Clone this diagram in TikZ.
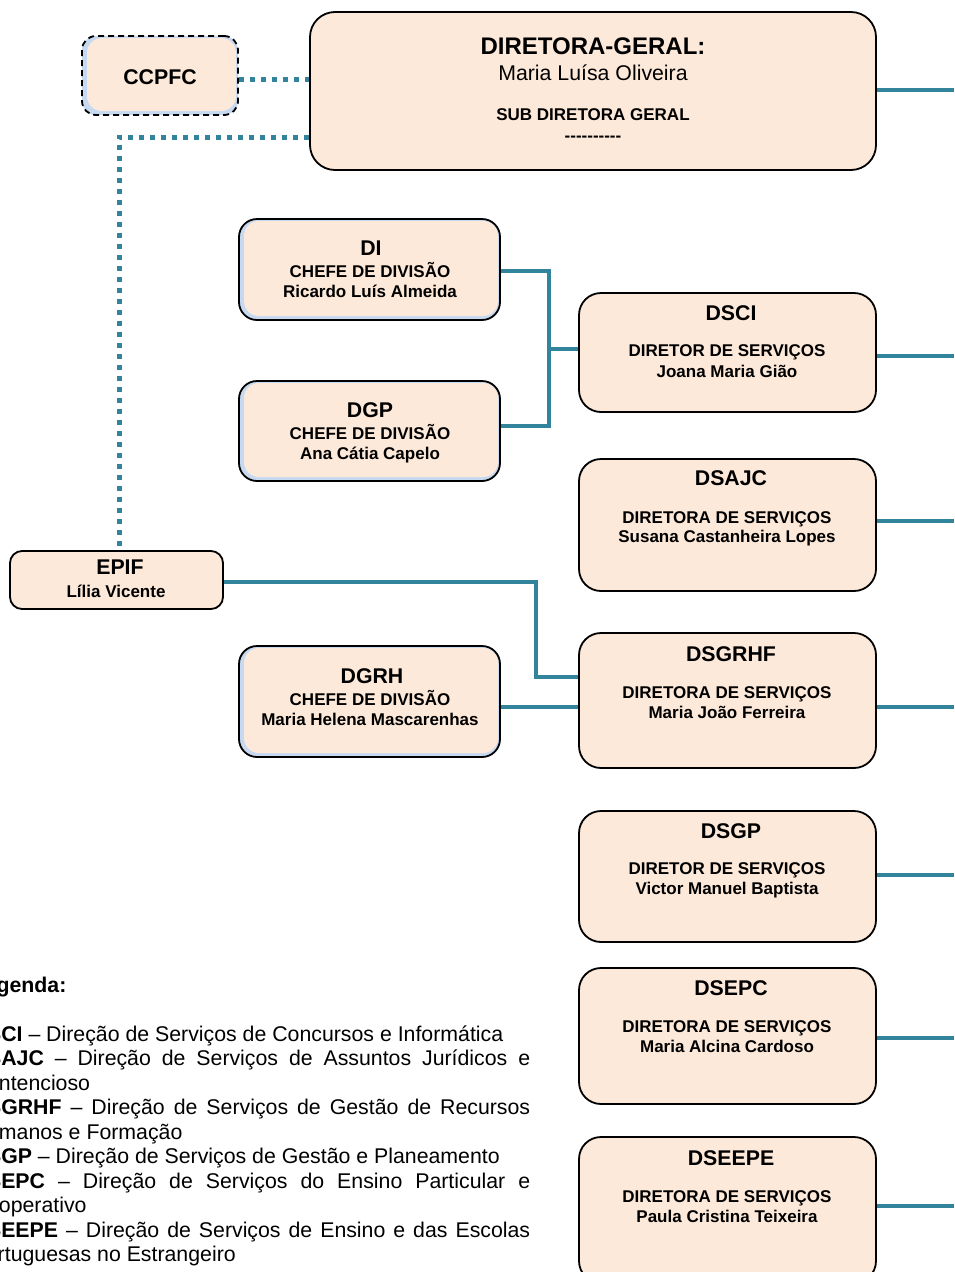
\documentclass[tikz,border=0pt]{standalone}
\usepackage{fontspec}
\setmainfont{Liberation Sans}
\usetikzlibrary{calc}
\definecolor{peach}{HTML}{FDE9D9}
\definecolor{teal1}{HTML}{31849B}
\definecolor{lblue}{HTML}{C6D9F1}
\begin{document}
\begin{tikzpicture}[x=1pt,y=-1pt,
 box/.style={draw=black, line width=1.8pt, fill=peach, rounded corners=22pt, inner sep=0pt},
 divbox/.style={box, rounded corners=18pt, fill=lblue,
   path picture={\fill[peach, rounded corners=15pt]
     ([xshift=5pt,yshift=4pt]path picture bounding box.south west) rectangle
     ([xshift=-2pt,yshift=-2pt]path picture bounding box.north east);}},
 conn/.style={draw=teal1, line width=4.5pt},
 dots/.style={draw=teal1, line width=5pt, dash pattern=on 5pt off 6pt},
 big/.style={font=\fontsize{24}{28}\selectfont\bfseries, inner sep=0pt, anchor=base},
 ttl/.style={font=\fontsize{21.3}{24}\selectfont\bfseries, inner sep=0pt, anchor=base},
 reg/.style={font=\fontsize{21.3}{24}\selectfont, inner sep=0pt, anchor=base},
 sml/.style={font=\fontsize{17}{20}\selectfont\bfseries, inner sep=0pt, anchor=base},
]
\useasboundingbox (0,0) rectangle (954,1272);
\clip (0,0) rectangle (954,1272);

% ---------- boxes ----------
\node[box, rounded corners=25pt, minimum width=566pt, minimum height=158pt] (DG) at (593,91) {};
\node[divbox, rounded corners=14pt, dash pattern=on 6pt off 4pt, minimum width=156pt, minimum height=79pt] (CCPFC) at (160,75.5) {};
\node[divbox, minimum width=261pt, minimum height=101pt] (DI) at (369.5,269.5) {};
\node[divbox, minimum width=261pt, minimum height=100pt] (DGP) at (369.5,431) {};
\node[divbox, minimum width=261pt, minimum height=111pt] (DGRH) at (369.5,701.5) {};
\node[box, rounded corners=12pt, minimum width=213pt, minimum height=58pt] (EPIF) at (116.5,580) {};
\node[box, minimum width=297pt, minimum height=119pt] (DSCI) at (727.5,352.5) {};
\node[box, minimum width=297pt, minimum height=132pt] (DSAJC) at (727.5,525) {};
\node[box, minimum width=297pt, minimum height=135pt] (DSGRHF) at (727.5,700.5) {};
\node[box, minimum width=297pt, minimum height=131pt] (DSGP) at (727.5,876.5) {};
\node[box, minimum width=297pt, minimum height=136pt] (DSEPC) at (727.5,1036) {};
\node[box, minimum width=297pt, minimum height=146pt] (DSEEPE) at (727.5,1210) {};

% ---------- texts ----------
\node[big] (tDG1) at (593,54.6) {DIRETORA-GERAL:};
\node[reg] (tDG2) at (593,80.5) {Maria Luísa Oliveira};
\node[sml] (tDG3) at (593,120) {SUB DIRETORA GERAL};
\node[sml] (tDG4) at (593,141) {-{}-{}-{}-{}-{}-{}-{}-{}-{}-};

\node[ttl] (tCC) at (160,84.5) {CCPFC};

\node[ttl] (tDI1) at (371,255.5) {DI};
\node[sml] (tDI2) at (370,277) {CHEFE DE DIVISÃO};
\node[sml] (tDI3) at (370,297) {Ricardo Luís Almeida};

\node[ttl] (tDGP1) at (370,417.5) {DGP};
\node[sml] (tDGP2) at (370,439) {CHEFE DE DIVISÃO};
\node[sml] (tDGP3) at (370,459) {Ana Cátia Capelo};

\node[ttl] (tDGRH1) at (372,683.5) {DGRH};
\node[sml] (tDGRH2) at (370,705) {CHEFE DE DIVISÃO};
\node[sml] (tDGRH3) at (370,725) {Maria Helena Mascarenhas};

\node[ttl] (tEP1) at (120,574.5) {EPIF};
\node[sml] (tEP2) at (116,597) {Lília Vicente};

\node[ttl] (tSCI1) at (731,320.5) {DSCI};
\node[sml] (tSCI2) at (727,356) {DIRETOR DE SERVIÇOS};
\node[sml] (tSCI3) at (727,377) {Joana Maria Gião};

\node[ttl] (tSAJC1) at (731,485.5) {DSAJC};
\node[sml] (tSAJC2) at (727,523) {DIRETORA DE SERVIÇOS};
\node[sml] (tSAJC3) at (727,542) {Susana Castanheira Lopes};

\node[ttl] (tSG1) at (731,661.5) {DSGRHF};
\node[sml] (tSG2) at (727,698) {DIRETORA DE SERVIÇOS};
\node[sml] (tSG3) at (727,718) {Maria João Ferreira};

\node[ttl] (tSGP1) at (731,838.5) {DSGP};
\node[sml] (tSGP2) at (727,874) {DIRETOR DE SERVIÇOS};
\node[sml] (tSGP3) at (727,894) {Victor Manuel Baptista};

\node[ttl] (tSEPC1) at (731,995.5) {DSEPC};
\node[sml] (tSEPC2) at (727,1032) {DIRETORA DE SERVIÇOS};
\node[sml] (tSEPC3) at (727,1052) {Maria Alcina Cardoso};

\node[ttl] (tSEEPE1) at (731,1165.5) {DSEEPE};
\node[sml] (tSEEPE2) at (727,1202) {DIRETORA DE SERVIÇOS};
\node[sml] (tSEEPE3) at (727,1222) {Paula Cristina Teixeira};

% ---------- legend ----------
\node[anchor=base west, inner sep=0pt] (legend) at (-28.5,992) {%
\begin{minipage}[t]{558.5pt}\fontsize{21.3}{24.5}\selectfont
\hyphenpenalty=10000 \exhyphenpenalty=10000
\textbf{Legenda:}\par\vspace{24.5pt}
\textbf{DSCI} – Direção de Serviços de Concursos e Informática\par
\textbf{DSAJC} – Direção de Serviços de Assuntos Jurídicos e\linebreak Contencioso\par
\textbf{DSGRHF} – Direção de Serviços de Gestão de Recursos\linebreak Humanos e Formação\par
\textbf{DSGP} – Direção de Serviços de Gestão e Planeamento\par
\textbf{DSEPC} – Direção de Serviços do Ensino Particular e\linebreak Cooperativo\par
\textbf{DSEEPE} – Direção de Serviços de Ensino e das Escolas\linebreak Portuguesas no Estrangeiro\par
\end{minipage}};

% ---------- connectors ----------
\coordinate (eDG) at (954,90);
\coordinate (eSCI) at (954,356);
\coordinate (eSAJC) at (954,521);
\coordinate (eSG) at (954,707);
\coordinate (eSGP) at (954,875);
\coordinate (eSEPC) at (954,1038);
\coordinate (eSEEPE) at (954,1206);
\draw[conn] (DG.east |- eDG) -- (eDG);
\draw[conn] (DSCI.east |- eSCI) -- (eSCI);
\draw[conn] (DSAJC.east |- eSAJC) -- (eSAJC);
\draw[conn] (DSGRHF.east |- eSG) -- (eSG);
\draw[conn] (DSGP.east |- eSGP) -- (eSGP);
\draw[conn] (DSEPC.east |- eSEPC) -- (eSEPC);
\draw[conn] (DSEEPE.east |- eSEEPE) -- (eSEEPE);

\coordinate (j1) at (549,349);
\coordinate (y1) at (0,271);
\coordinate (y2) at (0,426);
\draw[conn] (DI.east |- y1) -| (j1) |- (DGP.east |- y2);
\draw[conn] (j1) -- (DSCI.west |- j1);

\coordinate (j2) at (536,677);
\coordinate (y3) at (0,582);
\draw[conn] (EPIF.east |- y3) -| (j2) -- (DSGRHF.west |- j2);
\coordinate (y4) at (0,707);
\draw[conn] (DGRH.east |- y4) -- (DSGRHF.west |- y4);

\coordinate (d1) at (270,79);
\coordinate (d2) at (119,137);
\draw[dots] (CCPFC.east |- d1) -- (DG.west |- d1);
\draw[dots] (DG.west |- d2) -- (d2) -- (EPIF.north -| d2);
\end{tikzpicture}
\end{document}
